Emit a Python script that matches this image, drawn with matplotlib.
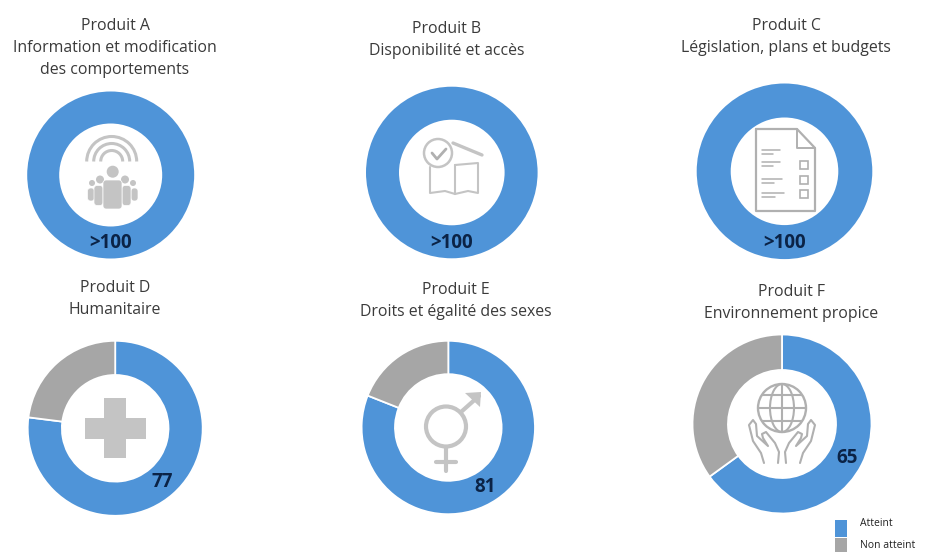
import numpy as np
import matplotlib
matplotlib.use('Agg')
import matplotlib.pyplot as plt
from matplotlib.patches import Circle, Ellipse, Rectangle, FancyBboxPatch, Arc, Polygon

plt.rcParams['font.family'] = ['Open Sans', 'DejaVu Sans']

W, H = 925, 552
BLUE = '#4f94d8'
GREY = '#a6a6a6'
ICON = '#c4c4c4'
LINE_ICON = '#b0b0b0'
TITLE_COL = '#3a3a3a'
VALUE_COL = '#0b2346'

# one entry per product
products = ['Produit A', 'Produit B', 'Produit C', 'Produit D', 'Produit E', 'Produit F']
subtitles = ['Information et modification\ndes comportements', 'Disponibilité et accès',
             'Législation, plans et budgets', 'Humanitaire',
             'Droits et égalité des sexes', 'Environnement propice']
atteint = [100, 100, 100, 77, 81, 65]
value_labels = ['>100', '>100', '>100', '77', '81', '65']
legend_labels = ['Atteint', 'Non atteint']

# donut centre x, centre y, outer radius, inner radius (pixels)
rings = [(110.7, 175, 83.5, 51.5), (451.8, 172.5, 85.8, 52.8), (784.5, 171.3, 87.8, 53.8),
         (115.2, 428.3, 87.5, 53.3), (448.3, 427.5, 86.7, 53.3), (782, 424, 89.5, 54)]
title_pos = [(115, 26), (446.7, 29), (786, 26), (115, 288), (456, 290), (791.5, 292)]
value_pos = [(110.5, 243), (451.7, 243), (784.5, 243), (162.7, 482), (485, 487), (846.8, 458)]

fig = plt.figure(figsize=(W / 100, H / 100), dpi=100)

for (cx, cy, r, ri), val in zip(rings, atteint):
    ax = fig.add_axes([(cx - r) / W, 1 - (cy + r) / H, 2 * r / W, 2 * r / H])
    lw = 0 if val >= 100 else 1.3
    ax.pie([val, 100 - val], colors=[BLUE, GREY], startangle=90, counterclock=False, radius=1,
           wedgeprops=dict(width=1 - ri / r, edgecolor='white', linewidth=lw))
    ax.set_xlim(-1, 1)
    ax.set_ylim(-1, 1)

# overlay in pixel coordinates for text, icons and legend
ov = fig.add_axes([0, 0, 1, 1], zorder=5)
ov.set_xlim(0, W)
ov.set_ylim(H, 0)
ov.axis('off')
ov.patch.set_alpha(0)

for (x, y), prod, sub in zip(title_pos, products, subtitles):
    lines = [prod] + sub.split('\n')
    for i, txt in enumerate(lines):
        ov.text(x, y + i * 22, txt, ha='center', va='center', fontsize=11.4, color=TITLE_COL)

for (x, y), lab in zip(value_pos, value_labels):
    ov.text(x, y, lab, ha='center', va='center', fontsize=13.5, fontweight='bold', color=VALUE_COL)


def line(xs, ys, lw=1.5, col=LINE_ICON):
    ov.plot(xs, ys, color=col, lw=lw, solid_capstyle='round', solid_joinstyle='round')


# A: signal arcs over a group of people
for d in [50, 36, 22]:
    ov.add_patch(Arc((111.7, 161.5), d, d, theta1=180, theta2=360, color=ICON, lw=2.2))
for hx, hy, hr in [(112.7, 171.7, 6), (100, 179.5, 4), (125, 179.5, 4), (92, 183, 3), (133, 183, 3)]:
    ov.add_patch(Circle((hx, hy), hr, color=ICON, lw=0))
for bx, by, bw, bh in [(87.5, 188, 7, 13), (131, 188, 7, 13), (94, 185.5, 9, 20), (122, 185.5, 9, 20),
                       (103, 180, 19, 29)]:
    ov.add_patch(FancyBboxPatch((bx, by), bw, bh, boxstyle='round,pad=0,rounding_size=3',
                                fc=ICON, ec='white', lw=0.5))

# B: book with a tick and a roof line
ov.add_patch(Circle((438, 153), 14, fill=False, ec=ICON, lw=1.8))
line([432, 437, 446], [153, 159, 149], lw=2)
line([453, 482], [143, 155], lw=2.4, col=ICON)
line([430, 430, 445, 455, 468, 478, 478, 455], [167, 193, 191, 194, 191, 193, 163, 165], col=ICON)
line([455, 455], [165, 194], col=ICON)

# C: document with a checklist
line([756, 797, 815, 815, 756, 756], [129, 129, 148, 211, 211, 129], lw=1.6)
line([797, 797, 815], [129, 148, 148], lw=1.4)
for y0, wd in [(150, 18), (162, 18), (179, 20), (193, 22)]:
    line([762, 762 + wd], [y0, y0], lw=1.1)
    line([762, 762 + wd * 0.6], [y0 + 4, y0 + 4], lw=1.1)
for y0 in [161, 176, 190]:
    ov.add_patch(Rectangle((800, y0), 8, 8, fill=False, ec=LINE_ICON, lw=1.2))

# D: plain cross
ov.add_patch(Rectangle((104, 398), 22, 60, fc=ICON, ec='none'))
ov.add_patch(Rectangle((84.7, 418), 61, 21, fc=ICON, ec='none'))

# E: combined gender symbol
ov.add_patch(Circle((446, 426.5), 20, fill=False, ec=ICON, lw=3))
line([461, 479], [412, 396], lw=3, col=ICON)
ov.add_patch(Polygon([[465, 393], [481, 392], [480, 407]], fc=ICON, ec='none'))
line([446, 446], [447, 471], lw=3, col=ICON)
line([436, 456], [462, 462], lw=3, col=ICON)

# F: globe held by two hands
ov.add_patch(Circle((782, 408), 24, fill=False, ec=LINE_ICON, lw=1.7))
ov.add_patch(Ellipse((782, 408), 24, 48, fill=False, ec=LINE_ICON, lw=1.5))
line([782, 782], [384, 432], lw=1.5)
line([758, 806], [408, 408], lw=1.5)
line([762, 802], [395, 395], lw=1.5)
line([762, 802], [421, 421], lw=1.5)
hand_dx = np.array([18, 21, 29, 33, 29, 26, 25, 14, 19, 20, 16, 7, 3, 4])
hand_y = np.array([463, 453, 441, 425, 420, 424, 436, 446, 438, 434, 432, 443, 452, 463])
for sgn in [-1, 1]:
    line(782 + sgn * hand_dx, hand_y, lw=1.5)

# legend
for y0, hgt, col, lab, ty in zip([520, 538], [16.5, 14], [BLUE, GREY], legend_labels, [523, 546]):
    ov.add_patch(Rectangle((835, y0), 12.3, hgt, fc=col, ec='none'))
    ov.text(859.5, ty, lab, ha='left', va='center', fontsize=7.5, color='#222222')

fig.savefig('out.png', dpi=100)
